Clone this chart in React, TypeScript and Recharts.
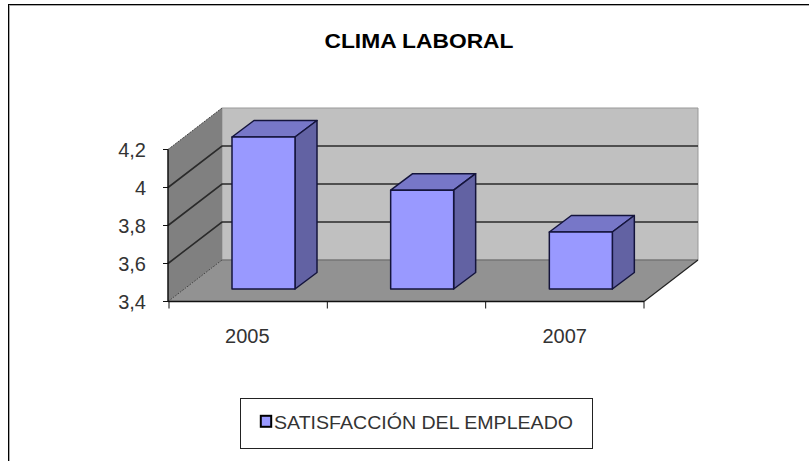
import React from 'react';
import { BarChart, Bar, XAxis, YAxis, Legend, Customized } from 'recharts';

const categories = ['2005', '2006', '2007'];
const satisfaction = [4.2, 3.92, 3.7];
const yTicks = [3.4, 3.6, 3.8, 4, 4.2];
const xTickLabels = ['2005', '2007'];
const title = 'CLIMA LABORAL';
const seriesName = 'SATISFACCIÓN DEL EMPLEADO';

const data = categories.map((c, i) => ({ year: c, value: satisfaction[i] }));

const W = 809, H = 461;
const L = 168, R = 644, T = 149.5, B = 301.5;
const DX = 54, DY = 41.5;
const BAR_SHIFT_X = 16, BAR_SHIFT_Y = 12.5;
const BAR_DX = 22, BAR_DY = 16.5;
const yDomain: [number, number] = [3.4, 4.2];
const yPos = (v: number) => B - ((v - yDomain[0]) / (yDomain[1] - yDomain[0])) * (B - T);

const poly = (pts: number[][]) => pts.map((p) => p.join(',')).join(' ');

const Backdrop = () => (
  <g>
    <line x1={8.5} y1={4} x2={8.5} y2={H} stroke="#000" />
    <line x1={9.5} y1={5} x2={9.5} y2={H} stroke="#aaa" />
    <line x1={8} y1={4.5} x2={W} y2={4.5} stroke="#000" />
    <line x1={9} y1={5.5} x2={W} y2={5.5} stroke="#aaa" />
    <text x={419} y={47.5} textAnchor="middle" fontFamily="Liberation Sans" fontWeight="bold" fontSize={21}
      textLength={189} lengthAdjust="spacingAndGlyphs">{title}</text>
    <polygon points={poly([[L + DX, T - DY], [R + DX, T - DY], [R + DX, B - DY], [L + DX, B - DY]])} fill="#C0C0C0" stroke="#999" />
    <polygon points={poly([[L, T], [L + DX, T - DY], [L + DX, B - DY], [L, B]])} fill="#808080" />
    <polygon points={poly([[L, B], [R, B], [R + DX, B - DY], [L + DX, B - DY]])} fill="#929292" />
    <line x1={L + DX} y1={B - DY} x2={R + DX} y2={B - DY} stroke="#666" />
    <line x1={L} y1={T} x2={L + DX} y2={T - DY} stroke="#444" strokeDasharray="2 1" />
    <line x1={L} y1={B} x2={L + DX} y2={B - DY} stroke="#444" strokeDasharray="2 1" />
    <line x1={R} y1={B} x2={R + DX} y2={B - DY} stroke="#222" strokeWidth={1.2} />
    {yTicks.slice(1, -1).map((v) => (
      <polyline key={v} fill="none" stroke="#2a2a2a" strokeWidth={1.6}
        points={poly([[L, yPos(v)], [L + DX, yPos(v) - DY], [R + DX, yPos(v) - DY]])} />
    ))}
    {categories.concat('').map((c, i) => {
      const x = L + 1 + (i * (R - L - 1)) / categories.length;
      return <line key={i} x1={x} y1={B} x2={x} y2={B + 7} stroke="#111" />;
    })}
  </g>
);

const Cuboid = (props: any) => {
  const { x, y, width, height } = props;
  const l = x, r = x + width, t = y - BAR_SHIFT_Y, b = y + height - BAR_SHIFT_Y;
  return (
    <g stroke="#14143c" strokeWidth={1.5} strokeLinejoin="round">
      <polygon points={poly([[l, t], [r, t], [r + BAR_DX, t - BAR_DY], [l + BAR_DX, t - BAR_DY]])} fill="#7777C8" />
      <polygon points={poly([[r, t], [r + BAR_DX, t - BAR_DY], [r + BAR_DX, b - BAR_DY], [r, b]])} fill="#6262A3" />
      <rect x={l} y={t} width={width} height={height} fill="#9999FF" />
    </g>
  );
};

const LegendBox = () => (
  <svg width={353} height={51} style={{ display: 'block' }}>
    <rect x={0.5} y={0.5} width={352} height={50} fill="#fff" stroke="#222" />
    <rect x={20.8} y={17.8} width={10.4} height={11} fill="#9999FF" stroke="#000" strokeWidth={2} />
    <text x={34} y={30.5} fontFamily="Liberation Sans" fontSize={18} textLength={299} lengthAdjust="spacingAndGlyphs" fill="#333">{seriesName}</text>
  </svg>
);

export default function App() {
  return (
    <div style={{ position: 'absolute', left: 0, top: 0, width: W, height: H, overflow: 'hidden' }}>
      <BarChart
        width={W}
        height={H}
        data={data}
        margin={{ left: L - 40, right: W - R, top: T, bottom: H - B - 30 }}
        barCategoryGap={0}
      >
        <Customized component={<Backdrop />} />
        <XAxis
          dataKey="year"
          ticks={xTickLabels}
          interval={0}
          height={30}
          tickLine={false}
          axisLine={{ stroke: '#111', strokeWidth: 1.5 }}
          tick={{ fontFamily: 'Liberation Sans', fontSize: 20, fill: '#333' }}
          tickMargin={21}
        />
        <YAxis
          width={40}
          domain={yDomain}
          ticks={yTicks}
          tickLine={{ stroke: '#111' }}
          axisLine={{ stroke: '#111', strokeWidth: 1.5 }}
          tickSize={5}
          tickMargin={17}
          tickFormatter={(v: number) => String(v).replace('.', ',')}
          tick={{ fontFamily: 'Liberation Sans', fontSize: 20, fill: '#333' }}
        />
        <Bar dataKey="value" name={seriesName} barSize={63} isAnimationActive={false}
          shape={(p: any) => <Cuboid {...p} x={p.x + BAR_SHIFT_X} />} />
        <Legend
          layout="horizontal"
          verticalAlign="middle"
          align="center"
          content={<LegendBox />}
          wrapperStyle={{ position: 'absolute', left: 240, top: 398, width: 353, height: 51, bottom: 'auto' }}
        />
      </BarChart>
    </div>
  );
}
